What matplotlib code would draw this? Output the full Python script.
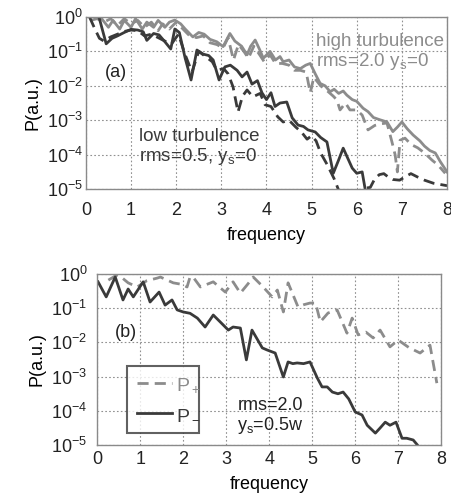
import numpy as np
import matplotlib
matplotlib.use('Agg')
import matplotlib.pyplot as plt

plt.rcParams['font.family'] = ['Liberation Sans', 'DejaVu Sans']
plt.rcParams['mathtext.fontset'] = 'custom'
plt.rcParams['mathtext.rm'] = 'Liberation Sans'
plt.rcParams['mathtext.it'] = 'Liberation Sans'
plt.rcParams['mathtext.default'] = 'regular'

dark = '#3a3a3a'
light = '#8c8c8c'

# panel (a): values are log10(P)
lo_sol_f = [0.25, 0.3, 0.45, 0.58, 0.7, 0.85, 1.0, 1.15, 1.27, 1.35, 1.5, 1.62, 1.75, 1.88, 1.97, 2.07,
            2.2, 2.33, 2.46, 2.6, 2.72, 2.82, 2.95, 3.08, 3.2, 3.35, 3.46, 3.57, 3.68, 3.8, 3.9, 4.0,
            4.1, 4.19, 4.3, 4.45, 4.57, 4.7, 4.82, 4.92, 5.08, 5.2, 5.34, 5.48, 5.6, 5.7, 5.8, 5.9,
            6.0, 6.12, 6.2, 6.3]
lo_sol_p = [0.1, -0.05, -0.78, -0.62, -0.55, -0.45, -0.36, -0.38, -0.43, -0.68, -0.48, -0.52, -0.72, -0.93, -0.35, -0.45,
            -1.2, -1.83, -0.96, -1.08, -1.12, -1.25, -1.83, -1.45, -1.4, -1.55, -1.74, -1.6, -1.95, -1.85, -2.2, -2.4,
            -2.2, -2.6, -2.5, -2.47, -2.93, -3.14, -3.18, -3.28, -3.34, -3.5, -3.63, -4.54, -4.15, -3.81, -4.1, -4.39,
            -4.54, -4.5, -5.1, -5.5]

lo_das_f = [0.08, 0.2, 0.3, 0.4, 0.55, 0.7, 0.85, 1.0, 1.15, 1.3, 1.45, 1.6, 1.75, 1.9, 2.05, 2.2,
            2.35, 2.5, 2.65, 2.8, 2.9, 3.05, 3.15, 3.26, 3.37, 3.47, 3.57, 3.7, 3.86, 3.97, 4.1, 4.25,
            4.37, 4.5, 4.65, 4.78, 4.9, 5.0, 5.1, 5.2, 5.35, 5.5, 5.65, 5.8, 5.95, 6.1, 6.2, 6.3,
            6.4, 6.5, 6.6, 6.7, 6.8, 6.95, 7.1, 7.2, 7.35, 7.5, 7.7, 8.0]
lo_das_p = [0.0, -0.35, -0.62, -0.7, -0.58, -0.5, -0.42, -0.38, -0.4, -0.55, -0.5, -0.6, -0.7, -0.78, -0.5, -1.1,
            -1.6, -1.0, -1.15, -1.3, -1.55, -1.5, -1.65, -2.03, -2.76, -2.3, -2.12, -2.32, -2.22, -2.55, -2.6, -2.9,
            -3.05, -3.0, -3.2, -3.35, -3.55, -3.45, -3.6, -3.95, -4.3, -4.7, -5.2, -5.5, -5.3, -5.0, -4.97, -4.95,
            -4.7, -4.58, -4.55, -4.65, -4.72, -4.74, -4.62, -4.55, -4.65, -4.74, -4.83, -4.9]

hi_sol_f = [0.35, 0.5, 0.6, 0.75, 0.85, 1.0, 1.1, 1.25, 1.35, 1.5, 1.6, 1.75, 1.85, 1.97, 2.1, 2.2,
            2.37, 2.5, 2.62, 2.75, 2.9, 3.04, 3.19, 3.3, 3.45, 3.57, 3.65, 3.75, 3.85, 3.93, 4.08, 4.2,
            4.3, 4.37, 4.5, 4.62, 4.75, 4.87, 4.97, 5.08, 5.19, 5.3, 5.41, 5.5, 5.6, 5.7, 5.78, 5.9,
            6.0, 6.14, 6.25, 6.37, 6.5, 6.67, 6.8, 6.9, 7.0, 7.12, 7.25, 7.4, 7.5, 7.62, 7.74, 7.85, 8.0]
hi_sol_p = [-0.05, -0.3, -0.1, -0.35, -0.1, -0.3, -0.05, -0.35, -0.15, -0.3, -0.1, -0.3, -0.15, -0.09, -0.2, -0.35,
            -0.58, -0.45, -0.5, -0.65, -0.72, -0.86, -0.48, -0.7, -0.85, -1.1, -0.85, -0.67, -0.95, -1.2, -1.0, -1.25,
            -1.15, -1.3, -1.25, -1.45, -1.5, -1.4, -1.35, -1.65, -1.93, -2.0, -2.17, -2.1, -2.22, -2.15, -2.27, -2.4,
            -2.45, -2.65, -2.75, -2.92, -2.98, -3.05, -3.33, -3.2, -3.05, -3.25, -3.43, -3.6, -3.75, -3.88, -3.95, -4.2, -4.5]

hi_das_f = [0.1, 0.25, 0.4, 0.55, 0.7, 0.85, 1.0, 1.15, 1.3, 1.45, 1.6, 1.7, 1.85, 2.0, 2.15, 2.3,
            2.45, 2.6, 2.75, 2.9, 3.04, 3.15, 3.27, 3.38, 3.5, 3.6, 3.72, 3.85, 3.95, 4.08, 4.2, 4.35,
            4.5, 4.62, 4.75, 4.88, 4.97, 5.05, 5.2, 5.35, 5.48, 5.56, 5.63, 5.75, 5.85, 6.0, 6.12, 6.25,
            6.4, 6.55, 6.67, 6.78, 6.85, 6.9, 6.96, 7.07, 7.2, 7.35, 7.5, 7.67, 7.8, 7.96]
hi_das_p = [-0.1, -0.05, -0.15, -0.05, -0.25, -0.05, -0.2, -0.1, -0.3, -0.15, -0.4, -0.2, -0.35, -0.15, -0.35, -0.55,
            -0.6, -0.55, -0.75, -0.8, -0.9, -0.6, -1.25, -0.8, -1.0, -1.2, -0.85, -1.1, -1.3, -1.1, -1.35, -1.35,
            -1.4, -1.55, -1.55, -1.6, -2.2, -1.75, -2.0, -2.15, -2.3, -2.41, -2.7, -2.5, -2.7, -2.7, -2.85, -3.28,
            -3.15, -3.1, -3.08, -3.63, -4.0, -4.5, -3.58, -3.52, -3.7, -3.8, -3.95, -4.16, -4.3, -4.54]

# panel (b)
pm_f = [0.02, 0.21, 0.42, 0.6, 0.72, 0.84, 1.07, 1.23, 1.44, 1.58, 1.74, 1.86, 2.0, 2.16, 2.33, 2.51,
        2.7, 2.86, 3.05, 3.16, 3.33, 3.47, 3.6, 3.72, 3.84, 3.95, 4.14, 4.33, 4.44, 4.55, 4.65, 4.8,
        4.95, 5.12, 5.23, 5.35, 5.47, 5.6, 5.72, 5.85, 6.0, 6.16, 6.28, 6.47, 6.58, 6.7, 6.81, 6.95,
        7.09, 7.2, 7.35, 7.45, 7.55]
pm_p = [-0.23, -0.67, -0.09, -0.76, -0.44, -0.67, -0.23, -0.82, -0.53, -0.91, -0.76, -1.05, -1.11, -1.15, -1.29, -1.55,
        -1.2, -1.4, -1.64, -1.55, -1.58, -2.51, -1.64, -1.9, -2.16, -2.22, -2.31, -3.01, -2.57, -2.62, -2.6, -2.62,
        -2.57, -3.04, -3.3, -3.3, -3.45, -3.5, -3.45, -3.65, -4.03, -4.12, -4.42, -4.65, -4.5, -4.33, -4.42, -4.33,
        -4.8, -4.8, -4.85, -5.0, -5.2]

pp_f = [0.26, 0.46, 0.53, 0.72, 0.93, 1.15, 1.4, 1.47, 1.77, 1.95, 2.09, 2.16, 2.23, 2.4, 2.7, 2.98,
        3.16, 3.33, 3.5, 3.63, 3.86, 4.07, 4.19, 4.33, 4.44, 4.67, 4.8, 4.95, 5.08, 5.19, 5.37, 5.58,
        5.81, 5.93, 6.07, 6.25, 6.42, 6.58, 6.81, 7.0, 7.25, 7.51, 7.74, 7.9]
pp_p = [-0.18, -0.03, -0.06, -0.26, -0.38, -0.2, -0.12, -0.09, -0.26, -0.3, -0.38, -0.09, -0.09, -0.38, -0.23, -0.53,
        -0.23, -0.56, -0.3, -0.09, -0.38, -0.67, -0.47, -1.11, -0.26, -0.96, -0.9, -0.85, -0.85, -1.4, -1.14, -1.05,
        -1.73, -1.29, -1.78, -1.7, -1.87, -1.64, -2.13, -1.93, -2.15, -2.31, -2.08, -3.19]

fig = plt.figure(figsize=(4.52, 4.99), dpi=100)
ax1 = fig.add_axes([0.190, 0.621, 0.799, 0.345])
ax2 = fig.add_axes([0.215, 0.108, 0.761, 0.343])

lw = 2.0
dsh = (4, 2.2)
ax1.plot(hi_das_f, 10**np.array(hi_das_p), color=light, lw=lw, dashes=dsh)
ax1.plot(hi_sol_f, 10**np.array(hi_sol_p), color=light, lw=lw)
ax1.plot(lo_das_f, 10**np.array(lo_das_p), color=dark, lw=lw, dashes=dsh)
ax1.plot(lo_sol_f, 10**np.array(lo_sol_p), color=dark, lw=lw)

ax2.plot(pp_f, 10**np.array(pp_p), color=light, lw=lw, dashes=dsh, label='P$_+$')
ax2.plot(pm_f, 10**np.array(pm_p), color=dark, lw=lw, label='P$_-$')

for ax in (ax1, ax2):
    ax.set_yscale('log')
    ax.set_xlim(0, 8)
    ax.set_ylim(1e-5, 1)
    ax.set_xticks(range(9))
    ax.set_yticks([1e-5, 1e-4, 1e-3, 1e-2, 1e-1, 1])
    ax.minorticks_off()
    ax.grid(True, ls=(0, (1.5, 2)), color='#909090', lw=0.8)
    for s in ax.spines.values():
        s.set_color('#8a8a8a')
        s.set_linewidth(1.0)
    ax.tick_params(length=0, labelsize=13, colors='#222222')
    ax.set_xlabel('frequency', fontsize=13, labelpad=6)
    ax.set_ylabel('P(a.u.)', fontsize=13)

ax1.tick_params(axis='x', pad=9)
ax1.tick_params(axis='y', pad=2)
ax2.tick_params(axis='x', pad=4)
ax2.tick_params(axis='y', pad=7)

ax1.text(0.42, 10**-1.6, '(a)', fontsize=13, color='#222222', va='center')
ax1.text(5.1, 10**-0.7, 'high turbulence', fontsize=13.5, color=light, va='center')
ax1.text(5.1, 10**-1.3, 'rms=2.0 y$_s$=0', fontsize=13.5, color=light, va='center')
ax1.text(1.17, 10**-3.46, 'low turbulence', fontsize=13.5, color=dark, va='center')
ax1.text(1.17, 10**-4.04, 'rms=0.5, y$_s$=0', fontsize=13.5, color=dark, va='center')

ax2.text(0.42, 10**-1.7, '(b)', fontsize=13, color='#222222', va='center')
ax2.text(3.26, 10**-3.83, 'rms=2.0', fontsize=13, color='#222222', va='center')
ax2.text(3.26, 10**-4.42, 'y$_s$=0.5w', fontsize=13, color='#222222', va='center')

leg = ax2.legend(loc='lower left', bbox_to_anchor=(0.087, 0.07, 0.21, 0.41), mode='expand',
                 fontsize=14, frameon=True, fancybox=False, handlelength=1.8, handletextpad=0.2,
                 borderpad=0.5, labelspacing=0.6, borderaxespad=0)
leg.get_frame().set_edgecolor(dark)
leg.get_frame().set_linewidth(1.5)
leg.get_texts()[0].set_color(light)
leg.get_texts()[1].set_color(dark)

fig.savefig('out.png', dpi=100)
